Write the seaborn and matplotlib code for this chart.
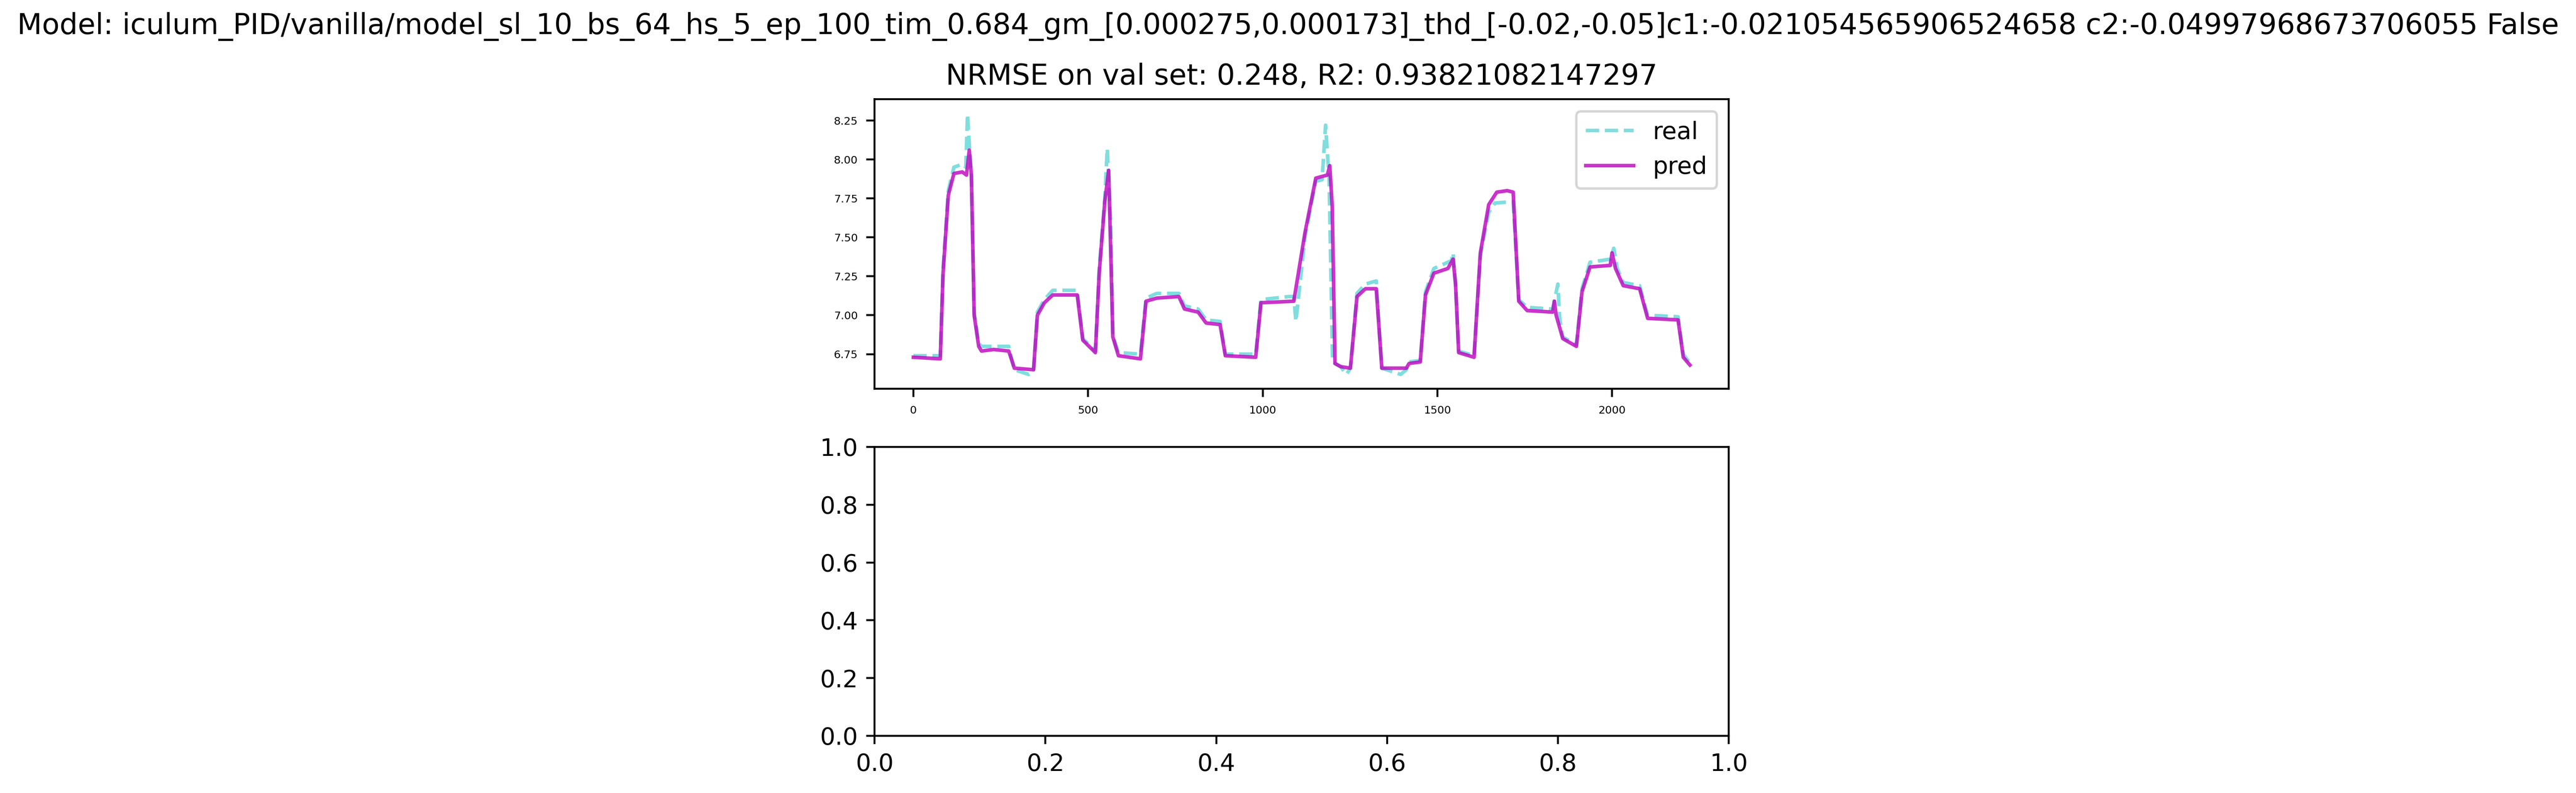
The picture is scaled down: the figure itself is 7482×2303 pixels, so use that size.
import numpy as np
import pandas as pd
import matplotlib
matplotlib.use("Agg")
import matplotlib.pyplot as plt
import seaborn as sns

# keypoints
pred_x = [0, 77, 85, 100, 116, 140, 152, 160, 166, 174, 187, 195, 230, 273, 289, 344, 355, 375, 399, 469, 485, 521,
          532, 548, 559, 571, 587, 650, 666, 697, 760, 776, 815, 838, 878, 893, 980, 995, 1089, 1097, 1121, 1152,
          1185, 1192, 1199, 1207, 1223, 1251, 1270, 1294, 1325, 1341, 1411, 1419, 1451, 1466, 1490, 1530, 1545,
          1552, 1561, 1605, 1623, 1647, 1670, 1700, 1717, 1733, 1757, 1830, 1835, 1840, 1859, 1898, 1914, 1937,
          1995, 2000, 2010, 2032, 2079, 2102, 2189, 2204, 2223]
pred_y = [6.73, 6.72, 7.27, 7.77, 7.91, 7.92, 7.90, 8.06, 7.9, 7.0, 6.80, 6.77, 6.78, 6.77, 6.66, 6.65, 7.0, 7.08, 7.13,
          7.13, 6.84, 6.76, 7.27, 7.73, 7.93, 6.86, 6.74, 6.72, 7.09, 7.11, 7.12, 7.04, 7.02, 6.95, 6.94, 6.74, 6.73,
          7.08, 7.09, 7.2, 7.53, 7.88, 7.90, 7.96, 7.7, 6.69, 6.67, 6.66, 7.12, 7.17, 7.17, 6.66, 6.66, 6.69, 6.70,
          7.13, 7.27, 7.30, 7.36, 7.2, 6.76, 6.73, 7.40, 7.71, 7.79, 7.80, 7.79, 7.09, 7.03, 7.02, 7.09, 7.0, 6.85,
          6.80, 7.15, 7.31, 7.32, 7.40, 7.30, 7.19, 7.17, 6.98, 6.97, 6.73, 6.68]

real_x = [0, 77, 85, 100, 116, 140, 150, 155, 160, 166, 174, 187, 195, 230, 273, 289, 330, 344, 355, 375, 399, 469,
          485, 521, 532, 548, 555, 565, 571, 587, 650, 666, 697, 760, 776, 815, 838, 878, 893, 980, 995, 1075, 1089,
          1095, 1121, 1152, 1170, 1180, 1190, 1200, 1223, 1240, 1251, 1270, 1294, 1325, 1341, 1395, 1411, 1419,
          1451, 1466, 1490, 1540, 1545, 1552, 1561, 1605, 1623, 1647, 1665, 1717, 1733, 1757, 1830, 1845, 1850,
          1859, 1898, 1914, 1937, 1995, 2005, 2015, 2032, 2079, 2102, 2189, 2204, 2223]
real_y = [6.74, 6.74, 7.3, 7.8, 7.95, 7.97, 7.95, 8.29, 8.1, 7.9, 7.02, 6.82, 6.80, 6.80, 6.80, 6.65, 6.62, 6.64,
          7.02, 7.1, 7.16, 7.16, 6.85, 6.77, 7.3, 7.75, 8.07, 7.6, 6.87, 6.76, 6.75, 7.11, 7.14, 7.14, 7.06, 7.04,
          6.97, 6.96, 6.75, 6.75, 7.1, 7.12, 7.12, 6.96, 7.5, 7.86, 7.87, 8.22, 7.88, 6.7, 6.67, 6.62, 6.66, 7.14,
          7.2, 7.22, 6.66, 6.62, 6.65, 6.70, 6.71, 7.15, 7.30, 7.35, 7.40, 7.2, 6.77, 6.74, 7.38, 7.66, 7.72, 7.73,
          7.10, 7.05, 7.04, 7.20, 6.98, 6.86, 6.81, 7.17, 7.34, 7.36, 7.43, 7.30, 7.21, 7.19, 7.0, 6.99, 6.75, 6.69]

title = ("Model: iculum_PID/vanilla/model_sl_10_bs_64_hs_5_ep_100_tim_0.684_gm_[0.000275,0.000173]_thd_[-0.02,-0.05]"
         "c1:-0.021054565906524658 c2:-0.04997968673706055 False")
subtitle = "NRMSE on val set: 0.248, R2: 0.93821082147297"

real = pd.DataFrame({"t": real_x, "v": real_y})
pred = pd.DataFrame({"t": pred_x, "v": pred_y})

fig = plt.figure(figsize=(7482 / 500, 2303 / 500), dpi=500)
ax1 = fig.add_axes([0.3395, 0.5098, 0.3316, 0.3651])
ax2 = fig.add_axes([0.3395, 0.0721, 0.3316, 0.3643])

sns.lineplot(data=real, x="t", y="v", ax=ax1, sort=False, color="c", alpha=0.5,
             linestyle="--", label="real")
sns.lineplot(data=pred, x="t", y="v", ax=ax1, sort=False, color="m", alpha=0.8, label="pred")
ax1.set_xlabel("")
ax1.set_ylabel("")
ax1.set_ylim(6.528, 8.387)
ax1.tick_params(labelsize=4.5)
ax1.legend(loc="upper right")
ax1.set_title(subtitle, fontsize=12)

fig.suptitle(title, fontsize=12, y=0.985)
fig.savefig("out.png", dpi=500)
